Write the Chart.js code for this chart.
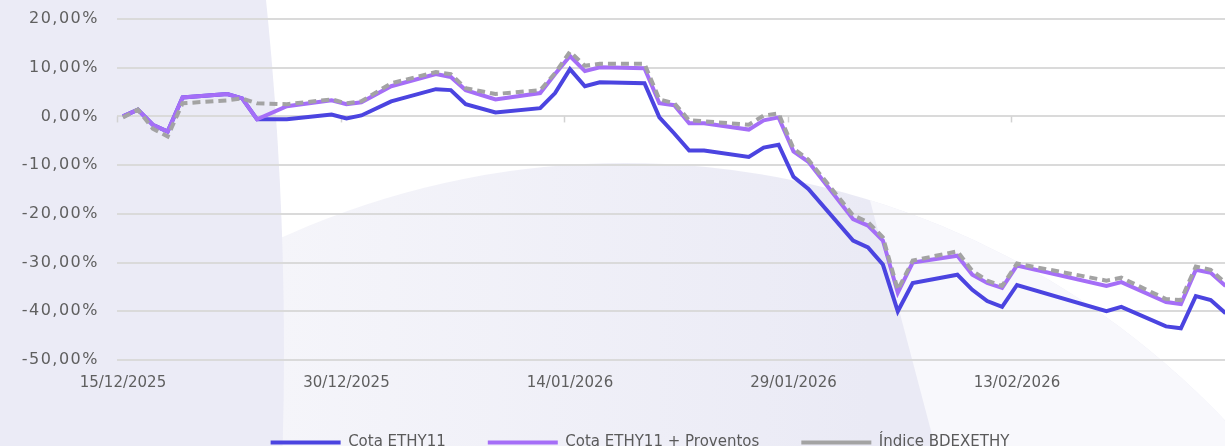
<!DOCTYPE html>
<html><head><meta charset="utf-8">
<script src="https://cdn.jsdelivr.net/npm/chart.js@4.4.1/dist/chart.umd.min.js"></script>
<style>
html,body{margin:0;padding:0;width:1225px;height:446px;overflow:hidden;background:#fff;}
#bg{position:absolute;left:0;top:0;}
#wrap{position:absolute;left:0;top:0;}
</style></head><body>
<svg id="bg" width="1225" height="446">
<defs>
<linearGradient id="g1" x1="280" y1="0" x2="870" y2="0" gradientUnits="userSpaceOnUse">
<stop offset="0" stop-color="#f5f5fa"/><stop offset="1" stop-color="#eaeaf5"/></linearGradient>
<clipPath id="cc"><circle cx="625" cy="991" r="828"/></clipPath>
</defs>
<circle cx="625" cy="991" r="828" fill="url(#g1)"/>
<polygon points="817,0 935,446 1225,446 1225,0" fill="#f8f8fc" clip-path="url(#cc)"/>
<circle cx="-3128" cy="350" r="3412" fill="#ebebf6"/>
</svg>
<div id="wrap"><canvas id="c" width="1280" height="460"></canvas></div>
<script>
const dates = ['15/12/2025','16/12/2025','17/12/2025','18/12/2025','19/12/2025','22/12/2025','23/12/2025','24/12/2025','26/12/2025','29/12/2025','30/12/2025','31/12/2025','02/01/2026','05/01/2026','06/01/2026','07/01/2026','09/01/2026','12/01/2026','13/01/2026','14/01/2026','15/01/2026','16/01/2026','19/01/2026','20/01/2026','21/01/2026','22/01/2026','23/01/2026','26/01/2026','27/01/2026','28/01/2026','29/01/2026','30/01/2026','02/02/2026','03/02/2026','04/02/2026','05/02/2026','06/02/2026','09/02/2026','10/02/2026','11/02/2026','12/02/2026','13/02/2026','19/02/2026','20/02/2026','23/02/2026','24/02/2026','25/02/2026','26/02/2026','27/02/2026'];
const cotaETHY11 = [0.0,1.4,-1.7,-3.1,3.9,4.6,3.7,-0.6,-0.6,0.4,-0.4,0.2,3.1,5.6,5.4,2.5,0.8,1.7,4.8,9.7,6.2,7.0,6.8,-0.2,-3.5,-7.0,-7.0,-8.3,-6.4,-5.8,-12.4,-14.9,-25.5,-26.9,-30.4,-40.0,-34.2,-32.5,-35.6,-37.9,-39.1,-34.6,-40.0,-39.1,-43.1,-43.5,-36.9,-37.7,-40.4];
const cotaProventos = [0.0,1.4,-1.7,-3.1,3.9,4.6,3.7,-0.6,2.1,3.3,2.5,2.9,6.2,8.7,8.1,5.4,3.5,4.8,8.7,12.4,9.3,10.1,9.9,2.7,2.3,-1.4,-1.4,-2.7,-0.8,-0.2,-7.2,-9.3,-21.1,-22.4,-25.5,-36.2,-30.0,-28.6,-32.5,-34.2,-35.2,-30.6,-34.8,-34.0,-38.1,-38.5,-31.5,-32.1,-34.8];
const indiceBDEXETHY = [-0.2,1.4,-2.5,-4.1,2.7,3.3,3.7,2.7,2.5,3.5,2.7,3.1,6.8,9.1,8.7,5.8,4.6,5.4,8.9,13.3,10.4,10.8,10.8,3.5,2.7,-0.8,-1.0,-1.7,0.2,0.6,-6.6,-8.9,-20.3,-21.7,-24.8,-35.6,-29.6,-27.7,-31.7,-33.7,-34.8,-30.2,-33.7,-33.1,-37.5,-37.7,-30.8,-31.5,-34.2];
const xTickLabels = ['15/12/2025','30/12/2025','14/01/2026','29/01/2026','13/02/2026'];
const yTicks = [20,10,0,-10,-20,-30,-40,-50];

function parseD(s){const p=s.split('/');return Date.UTC(+p[2],+p[1]-1,+p[0]);}
const t0 = parseD(dates[0]);
const dayOf = s => Math.round((parseD(s)-t0)/86400000);
const pts = arr => arr.map((v,i)=>({x:dayOf(dates[i]), y:v}));
const xTickVals = xTickLabels.map(dayOf);

const fmtPct = v => v.toFixed(2).replace('.',',') + '%';

const helpers = {
  id:'helpers',
  beforeDatasetsDraw(chart){
    const {ctx, scales:{x,y}} = chart;
    ctx.letterSpacing = '0px';
    const y0 = y.getPixelForValue(0);
    ctx.save();
    ctx.strokeStyle='#d2d2d2'; ctx.lineWidth=1.5;
    xTickVals.forEach(v=>{
      const px = Math.round(x.getPixelForValue(v-0.4))+0.5;
      ctx.beginPath(); ctx.moveTo(px,y0); ctx.lineTo(px,y0+6); ctx.stroke();
    });
    ctx.restore();
  },
  afterDatasetsDraw(chart){ chart.ctx.letterSpacing = '1.5px'; },
  afterDraw(chart){ chart.ctx.letterSpacing = '0px'; }
};

const FONT = "'DejaVu Sans', sans-serif";
new Chart(document.getElementById('c'), {
  type:'line',
  data:{datasets:[
    {label:'Cota ETHY11', data:pts(cotaETHY11), borderColor:'#4b44e0', backgroundColor:'#4b44e0', borderWidth:4, order:3},
    {label:'Cota ETHY11 + Proventos', data:pts(cotaProventos), borderColor:'#a56ef7', backgroundColor:'#a56ef7', borderWidth:4, order:2},
    {label:'Índice BDEXETHY', data:pts(indiceBDEXETHY), borderColor:'#a3a3a3', backgroundColor:'#a3a3a3', borderWidth:4, borderDash:[8,5], order:1}
  ]},
  options:{
    responsive:false, animation:false, devicePixelRatio:1,
    elements:{point:{radius:0}, line:{tension:0}},
    layout:{padding:{top:19,left:0,right:0,bottom:0}},
    plugins:{
      tooltip:{enabled:false},
      legend:{position:'bottom', labels:{
        usePointStyle:true, pointStyle:'line', pointStyleWidth:70, boxHeight:15,
        padding:42, color:'#5a5a5a', font:{family:FONT,size:15},
        sort:(a,b)=>a.datasetIndex-b.datasetIndex
      }}
    },
    scales:{
      x:{type:'linear', min:-0.4, max:77.65,
        grid:{display:false, drawTicks:false}, border:{display:false},
        afterBuildTicks:s=>{s.ticks = xTickVals.map(v=>({value:v}));},
        afterFit:s=>{s.height=33; s.paddingLeft=0; s.paddingRight=0;},
        ticks:{autoSkip:false, maxRotation:0, padding:14, color:'#5f5f5f', font:{family:FONT,size:15},
          callback:(v)=>{const i=xTickVals.indexOf(v);return i>=0?xTickLabels[i]:'';}}
      },
      y:{min:-50, max:20,
        afterBuildTicks:s=>{s.ticks = yTicks.map(v=>({value:v}));},
        afterFit:s=>{s.width=117; s.paddingTop=0; s.paddingBottom=0;},
        grid:{color:'#dadada', lineWidth:2, drawTicks:false}, border:{display:false},
        ticks:{z:1, padding:18, color:'#5f5f5f', font:{family:FONT,size:16}, callback:v=>fmtPct(v)}
      }
    }
  },
  plugins:[helpers]
});
</script>
</body></html>
